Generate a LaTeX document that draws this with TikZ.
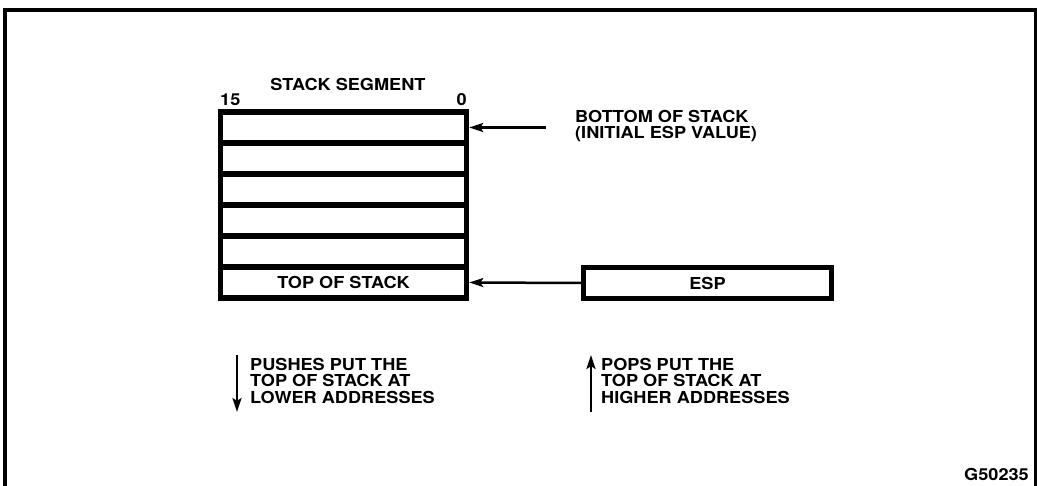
\documentclass[tikz,border=0pt]{standalone}
\usepackage{fontspec}
\setmainfont{TeX Gyre Heros}[BoldFeatures={FakeStretch=1.1}]
\usetikzlibrary{arrows.meta}
\begin{document}
\begin{tikzpicture}[x=1pt,y=-1pt,
  txt/.style={font=\bfseries\fontsize{16.5}{16.5}\selectfont},
  lbl/.style={txt, inner sep=0pt},
  cell/.style={txt, draw, line width=5.5pt, minimum width=246pt, minimum height=31pt, inner sep=0pt},
  esp/.style={txt, draw, line width=4.5pt, minimum width=248pt, minimum height=31pt, inner sep=0pt},
  ptr/.style={line width=2.5pt, -{Stealth[length=14pt,width=9pt,inset=3pt]}},
  frame/.style={line width=4pt}]
\useasboundingbox (0,0) rectangle (1037,486);
\draw[frame] (5,490) -- (5,10) -- (1035.5,10) -- (1035.5,490);
% stack cells
\node[cell] (r1) at (343.5,127.5) {};
\node[cell] (r2) at (343.5,158.5) {};
\node[cell] (r3) at (343.5,189.5) {};
\node[cell] (r4) at (343.5,220.5) {};
\node[cell] (r5) at (343.5,251.5) {};
\node[cell] (r6) at (343.5,282.5) {TOP OF STACK};
% header labels
\node[lbl] (title) at (348,84) {STACK SEGMENT};
\node[lbl, anchor=west] (b15) at (220,100) {15};
\node[lbl, anchor=east] (b0) at (467,100) {0};
% bottom of stack
\node[lbl, anchor=north west, align=left] (bos) at (575,110) {BOTTOM OF STACK\\(INITIAL ESP VALUE)};
\coordinate (bosa) at (546,127.5);
\draw[ptr] (bosa) -- (r1.east);
% ESP
\node[esp] (espbox) at (707.5,283) {ESP};
\draw[ptr] (espbox.west) -- (r6.east);
% push / pop notes
\coordinate (pd1) at (237,355);
\coordinate (pd2) at (237,412);
\draw[ptr] (pd1) -- (pd2);
\node[lbl, anchor=north west, align=left] (push) at (250,358) {PUSHES PUT THE\\TOP OF STACK AT\\LOWER ADDRESSES};
\coordinate (pu1) at (591,412);
\coordinate (pu2) at (591,355);
\draw[ptr] (pu1) -- (pu2);
\node[lbl, anchor=north west, align=left] (pop) at (601,358) {POPS PUT THE\\TOP OF STACK AT\\HIGHER ADDRESSES};
\node[lbl, anchor=east] (fig) at (1029,474) {G50235};
\end{tikzpicture}
\end{document}
